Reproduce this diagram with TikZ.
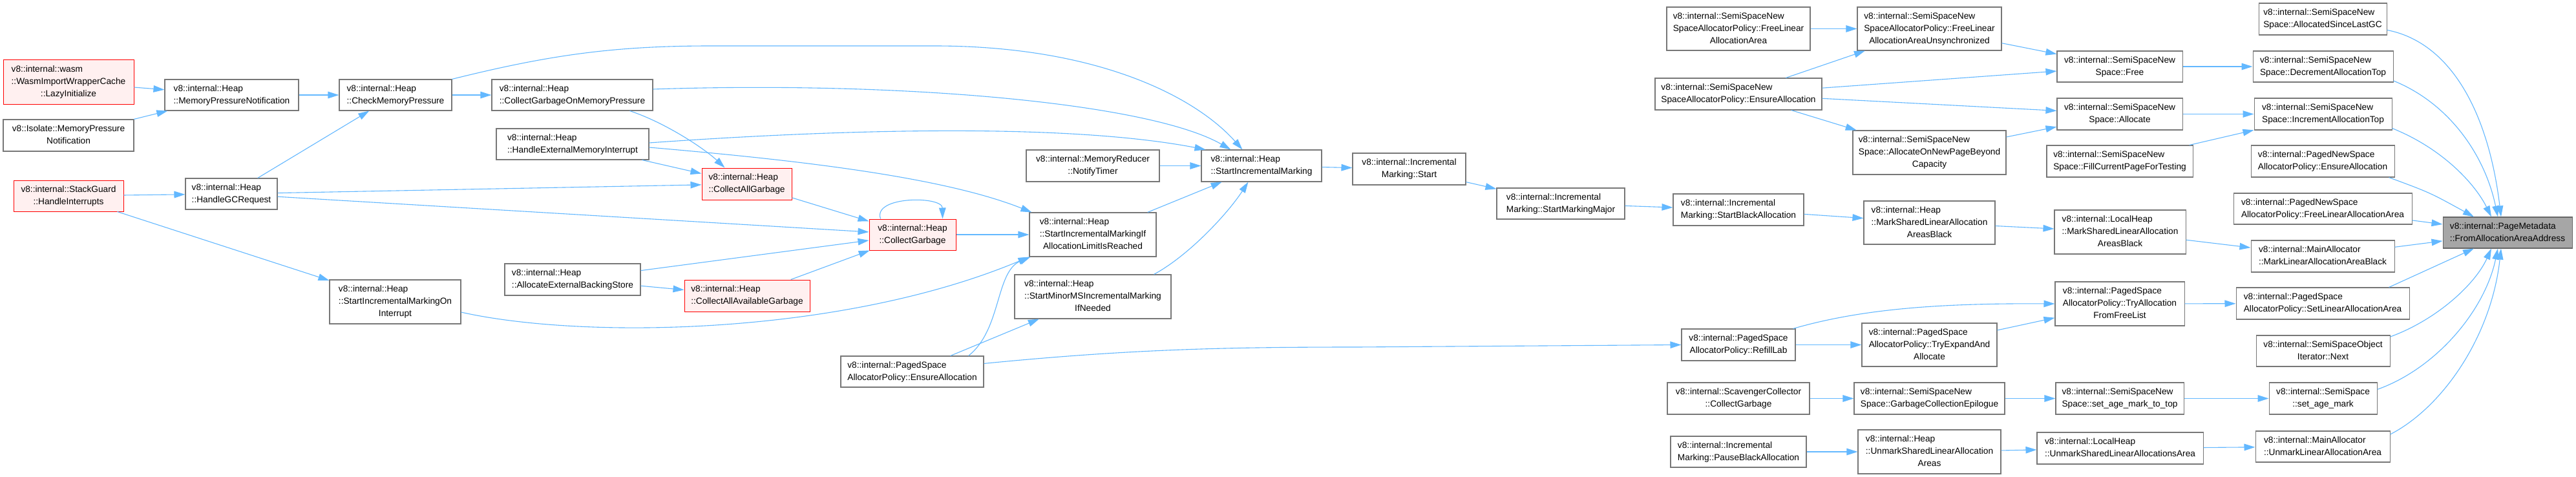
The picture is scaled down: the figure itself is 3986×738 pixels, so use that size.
\documentclass[tikz,border=0pt]{standalone}
\usepackage{fontspec}
\setmainfont{Liberation Sans}
\usetikzlibrary{arrows.meta,calc}
\definecolor{edgeblue}{HTML}{63B8FF}
\definecolor{boxgray}{HTML}{777777}
\definecolor{redfill}{HTML}{FFF0F0}
\definecolor{tgtfill}{HTML}{A6A6A6}
\definecolor{tgtdraw}{HTML}{666666}
\newcommand\tl[2]{\begin{tabular}{@{}l@{}}#1\\\multicolumn{1}{@{}c@{}}{#2}\end{tabular}}
\newcommand\thl[3]{\begin{tabular}{@{}l@{}}#1\\#2\\\multicolumn{1}{@{}c@{}}{#3}\end{tabular}}
\newcommand\nd[7]{\node[#2,minimum width={(#5-#3)*0.5pt},minimum height={(#6-#4)*0.5pt}] (#1) at ({(#3+#5)/2},{(#4+#6)/2}) {#7};}
\tikzset{
  fnbox/.style={draw=boxgray,fill=white,line width=0.55pt,inner sep=0pt,
    font=\fontsize{6.85pt}{9.5pt}\selectfont},
  redbox/.style={fnbox,draw=red,fill=redfill,line width=0.5pt},
  tgtbox/.style={fnbox,draw=tgtdraw,fill=tgtfill},
  e/.style={draw=edgeblue,line width=0.55pt,-{Triangle[length=8.5pt,width=5.3pt]}}
}
\begin{document}
\begin{tikzpicture}[x=0.5pt,y=-0.5pt]
\fill[white] (0,0) rectangle (3986,738);
\useasboundingbox (0,0) rectangle (3986,738);
% nodes
\nd{wasm}{redbox}{5}{93}{207}{161}{\thl{v8::internal::wasm}{::WasmImportWrapperCache}{::LazyInitialize}}
\nd{isomp}{fnbox}{5}{185}{207}{234}{\tl{v8::Isolate::MemoryPressure}{Notification}}
\nd{sg}{redbox}{21}{279}{191}{327}{\tl{v8::internal::StackGuard}{::HandleInterrupts}}
\nd{mpn}{fnbox}{255}{123}{462}{171}{\tl{v8::internal::Heap}{::MemoryPressureNotification}}
\nd{hgc}{fnbox}{287}{276}{429}{324}{\tl{v8::internal::Heap}{::HandleGCRequest}}
\nd{cmp}{fnbox}{525}{123}{699}{171}{\tl{v8::internal::Heap}{::CheckMemoryPressure}}
\nd{simoi}{fnbox}{510}{433}{713}{501}{\thl{v8::internal::Heap}{::StartIncrementalMarkingOn}{Interrupt}}
\nd{cgomp}{fnbox}{761}{123}{1010}{171}{\tl{v8::internal::Heap}{::CollectGarbageOnMemoryPressure}}
\nd{hemi}{fnbox}{768}{199}{1004}{247}{\tl{v8::internal::Heap}{::HandleExternalMemoryInterrupt}}
\nd{aebs}{fnbox}{781}{408}{991}{457}{\tl{v8::internal::Heap}{::AllocateExternalBackingStore}}
\nd{cag}{redbox}{1086}{260}{1225}{309}{\tl{v8::internal::Heap}{::CollectAllGarbage}}
\nd{caag}{redbox}{1059}{433}{1253}{482}{\tl{v8::internal::Heap}{::CollectAllAvailableGarbage}}
\nd{cg}{redbox}{1345}{339}{1479}{387}{\tl{v8::internal::Heap}{::CollectGarbage}}
\nd{pea}{fnbox}{1301}{551}{1522}{599}{\tl{v8::internal::PagedSpace}{AllocatorPolicy::EnsureAllocation}}
\nd{nt}{fnbox}{1588}{232}{1794}{281}{\tl{v8::internal::MemoryReducer}{::NotifyTimer}}
\nd{simif}{fnbox}{1593}{329}{1789}{397}{\thl{v8::internal::Heap}{::StartIncrementalMarkingIf}{AllocationLimitIsReached}}
\nd{smm}{fnbox}{1570}{425}{1812}{493}{\thl{v8::internal::Heap}{::StartMinorMSIncrementalMarking}{IfNeeded}}
\nd{sim}{fnbox}{1859}{232}{2045}{281}{\tl{v8::internal::Heap}{::StartIncrementalMarking}}
\nd{ims}{fnbox}{2093}{237}{2268}{286}{\tl{v8::internal::Incremental}{Marking::Start}}
\nd{smmaj}{fnbox}{2316}{291}{2514}{339}{\tl{v8::internal::Incremental}{Marking::StartMarkingMajor}}
\nd{sba}{fnbox}{2589}{300}{2791}{349}{\tl{v8::internal::Incremental}{Marking::StartBlackAllocation}}
\nd{ssfla}{fnbox}{2579}{11}{2801}{78}{\thl{v8::internal::SemiSpaceNew}{SpaceAllocatorPolicy::FreeLinear}{AllocationArea}}
\nd{ssea}{fnbox}{2561}{121}{2819}{170}{\tl{v8::internal::SemiSpaceNew}{SpaceAllocatorPolicy::EnsureAllocation}}
\nd{rl}{fnbox}{2602}{509}{2778}{558}{\tl{v8::internal::PagedSpace}{AllocatorPolicy::RefillLab}}
\nd{scg}{fnbox}{2580}{592}{2800}{641}{\tl{v8::internal::ScavengerCollector}{::CollectGarbage}}
\nd{pba}{fnbox}{2585}{675}{2795}{723}{\tl{v8::internal::Incremental}{Marking::PauseBlackAllocation}}
\nd{flaau}{fnbox}{2874}{11}{3097}{78}{\thl{v8::internal::SemiSpaceNew}{SpaceAllocatorPolicy::FreeLinear}{AllocationAreaUnsynchronized}}
\nd{aonp}{fnbox}{2867}{202}{3104}{270}{\thl{v8::internal::SemiSpaceNew}{Space::AllocateOnNewPageBeyond}{Capacity}}
\nd{hmsla}{fnbox}{2884}{311}{3087}{378}{\thl{v8::internal::Heap}{::MarkSharedLinearAllocation}{AreasBlack}}
\nd{tea}{fnbox}{2881}{500}{3090}{567}{\thl{v8::internal::PagedSpace}{AllocatorPolicy::TryExpandAnd}{Allocate}}
\nd{gce}{fnbox}{2869}{592}{3102}{641}{\tl{v8::internal::SemiSpaceNew}{Space::GarbageCollectionEpilogue}}
\nd{husla}{fnbox}{2875}{665}{3096}{733}{\thl{v8::internal::Heap}{::UnmarkSharedLinearAllocation}{Areas}}
\nd{ssfree}{fnbox}{3183}{79}{3377}{127}{\tl{v8::internal::SemiSpaceNew}{Space::Free}}
\nd{ssalloc}{fnbox}{3183}{152}{3377}{201}{\tl{v8::internal::SemiSpaceNew}{Space::Allocate}}
\nd{fill}{fnbox}{3167}{225}{3393}{274}{\tl{v8::internal::SemiSpaceNew}{Space::FillCurrentPageForTesting}}
\nd{lhmsla}{fnbox}{3179}{325}{3382}{393}{\thl{v8::internal::LocalHeap}{::MarkSharedLinearAllocation}{AreasBlack}}
\nd{taffl}{fnbox}{3180}{436}{3380}{504}{\thl{v8::internal::PagedSpace}{AllocatorPolicy::TryAllocation}{FromFreeList}}
\nd{samtt}{fnbox}{3181}{592}{3379}{641}{\tl{v8::internal::SemiSpaceNew}{Space::set\_age\_mark\_to\_top}}
\nd{lhusla}{fnbox}{3152}{669}{3409}{718}{\tl{v8::internal::LocalHeap}{::UnmarkSharedLinearAllocationsArea}}
\nd{aslgc}{fnbox}{3495}{5}{3693}{54}{\tl{v8::internal::SemiSpaceNew}{Space::AllocatedSinceLastGC}}
\nd{decat}{fnbox}{3486}{79}{3703}{127}{\tl{v8::internal::SemiSpaceNew}{Space::DecrementAllocationTop}}
\nd{incat}{fnbox}{3488}{152}{3701}{201}{\tl{v8::internal::SemiSpaceNew}{Space::IncrementAllocationTop}}
\nd{pnsea}{fnbox}{3483}{225}{3705}{274}{\tl{v8::internal::PagedNewSpace}{AllocatorPolicy::EnsureAllocation}}
\nd{pnsfla}{fnbox}{3456}{299}{3732}{347}{\tl{v8::internal::PagedNewSpace}{AllocatorPolicy::FreeLinearAllocationArea}}
\nd{mamark}{fnbox}{3483}{372}{3705}{421}{\tl{v8::internal::MainAllocator}{::MarkLinearAllocationAreaBlack}}
\nd{slaa}{fnbox}{3460}{445}{3728}{494}{\tl{v8::internal::PagedSpace}{AllocatorPolicy::SetLinearAllocationArea}}
\nd{ssoi}{fnbox}{3491}{519}{3698}{567}{\tl{v8::internal::SemiSpaceObject}{Iterator::Next}}
\nd{sam}{fnbox}{3511}{592}{3678}{641}{\tl{v8::internal::SemiSpace}{::set\_age\_mark}}
\nd{maunmark}{fnbox}{3490}{667}{3698}{715}{\tl{v8::internal::MainAllocator}{::UnmarkLinearAllocationArea}}
\nd{pm}{tgtbox}{3780}{336}{3980}{384}{\tl{v8::internal::PageMetadata}{::FromAllocationAreaAddress}}
% edges
\draw[e] (wasm) -- (mpn);
\draw[e] (isomp) -- (mpn);
\draw[e] (mpn) -- (cmp);
\draw[e] (hgc) -- (cmp);
\draw[e] (sg) -- (hgc);
\draw[e] (sg) -- (simoi);
\draw[e] (cmp) -- (cgomp);
\draw[e] (cmp.north east) .. controls (850,85) and (950,71) .. (1100,71) -- (1450,71) .. controls (1700,72) and (1850,150) .. ($(sim.north west)+(64,0)$);
\draw[e] ($(cgomp.east)+(0,-9)$) .. controls (1400,125) and (1780,160) .. ($(sim.north west)+(46,0)$);
\draw[e] ($(cgomp.south)+(89,0)$) .. controls (1030,190) and (1090,230) .. ($(cag.north west)+(36,0)$);
\draw[e] ($(hemi.east)+(0,-2)$) .. controls (1300,200) and (1650,190) .. ($(sim.north west)+(7,0)$);
\draw[e] (hemi) -- (cag);
\draw[e] ($(hemi.east)+(0,5)$) .. controls (1200,245) and (1450,270) .. ($(simif.north west)+(4,0)$);
\draw[e] (hgc) -- (cag);
\draw[e] (hgc) -- (cg);
\draw[e] (cag) -- (cg);
\draw[e] (aebs) -- (cg);
\draw[e] (aebs) -- (caag);
\draw[e] (caag) -- (cg);
\draw[e] ($(cg.north west)+(18,0)$) .. controls (1350,303) and (1458,303) .. ($(cg.north east)+(-21,0)$);
\draw[e] (cg) -- (simif);
\draw[e] ($(simoi.east)+(0,16)$) .. controls (900,525) and (1300,520) .. (simif.south west);
\draw[e] ($(pea.north east)+(-24,0)$) .. controls (1550,510) and (1540,420) .. ($(simif.south west)+(2,0)$);
\draw[e] (pea) -- (smm);
\draw[e] (simif) -- (sim);
\draw[e] ($(smm.north east)+(-27,0)$) .. controls (1840,395) and (1900,330) .. ($(sim.south west)+(73,0)$);
\draw[e] (nt) -- (sim);
\draw[e] (sim) -- (ims);
\draw[e] (ims) -- (smmaj);
\draw[e] (smmaj) -- (sba);
\draw[e] (sba) -- (hmsla);
\draw[e] (hmsla) -- (lhmsla);
\draw[e] (lhmsla) -- (mamark);
\draw[e] (mamark) -- (pm);
\draw[e] ($(pea.north east)+(0,12)$) .. controls (1750,540) and (1900,537) .. (2100,537) -- (rl.west);
\draw[e] ($(rl.north east)+(-4,0)$) .. controls (2880,478) and (3000,469) .. (taffl.west);
\draw[e] (rl) -- (tea);
\draw[e] (tea) -- (taffl);
\draw[e] (taffl) -- (slaa);
\draw[e] ($(slaa.north east)+(-32,0)$) -- ($(pm.south)+(-52,0)$);
\draw[e] (scg) -- (gce);
\draw[e] (gce) -- (samtt);
\draw[e] (samtt) -- (sam);
\draw[e] ($(ssoi.east)+(0,-22)$) .. controls (3770,495) and (3830,440) .. ($(pm.south)+(-25,0)$);
\draw[e] ($(sam.east)+(0,-14)$) .. controls (3770,570) and (3845,480) .. ($(pm.south)+(-15,0)$);
\draw[e] ($(maunmark.east)+(0,-19)$) .. controls (3780,630) and (3855,520) .. ($(pm.south)+(-10,0)$);
\draw[e] (pba) -- (husla);
\draw[e] (husla) -- (lhusla);
\draw[e] (lhusla) -- (maunmark);
\draw[e] (ssfla) -- (flaau);
\draw[e] (ssea) -- (flaau);
\draw[e] (ssea) -- (ssfree);
\draw[e] (ssea) -- (ssalloc);
\draw[e] (ssea) -- (aonp);
\draw[e] (flaau) -- (ssfree);
\draw[e] (aonp) -- (ssalloc);
\draw[e] (ssfree) -- (decat);
\draw[e] (ssalloc) -- (incat);
\draw[e] (fill) -- (incat);
\draw[e] ($(aslgc.east)+(0,17)$) .. controls (3790,65) and (3850,170) .. ($(pm.north)+(-10,0)$);
\draw[e] ($(decat.east)+(0,22)$) .. controls (3790,160) and (3845,240) .. ($(pm.north)+(-15,0)$);
\draw[e] ($(incat.east)+(0,22)$) .. controls (3780,230) and (3830,285) .. ($(pm.north)+(-25,0)$);
\draw[e] ($(pnsea.south east)+(-9,0)$) .. controls (3760,298) .. ($(pm.north)+(-52,0)$);
\draw[e] (pnsfla) -- (pm);
\end{tikzpicture}
\end{document}
